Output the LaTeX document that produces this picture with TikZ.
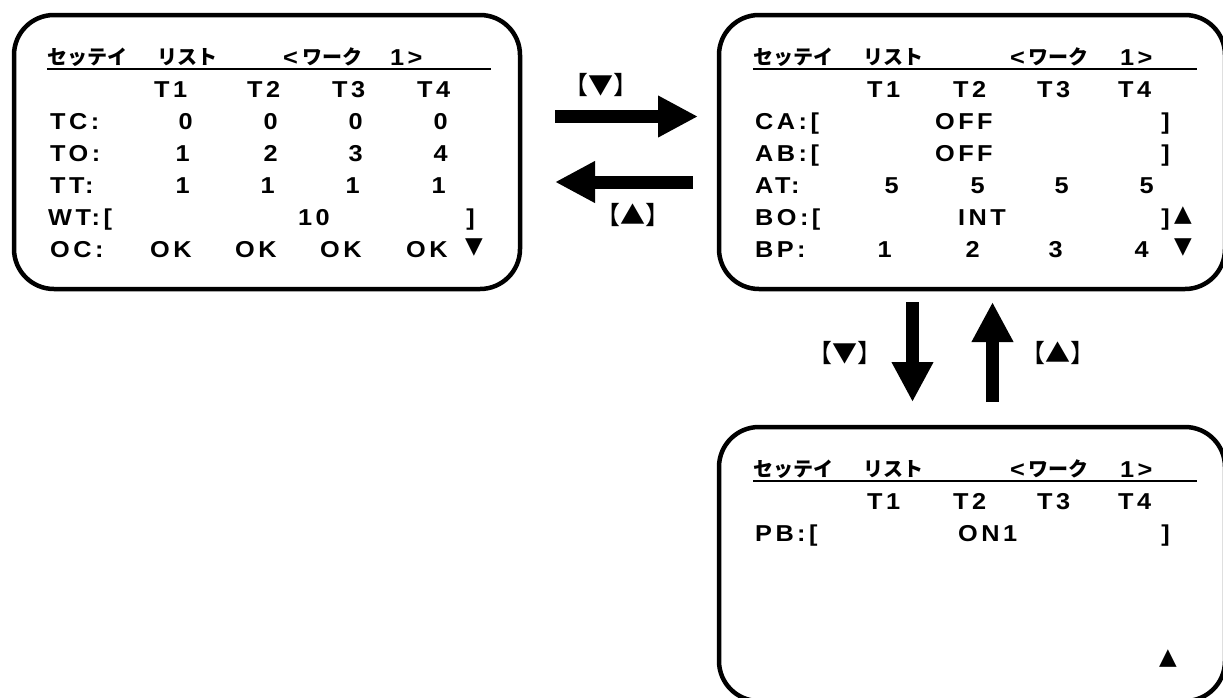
\documentclass[tikz,border=0pt]{standalone}
\usepackage{fontspec}
\usetikzlibrary{positioning, arrows.meta}
\newfontfamily\lcdfont[FakeStretch=1.1,LetterSpace=15]{Liberation Sans}
\newfontfamily\cjk{Noto Sans CJK JP}
\newfontfamily\symfont{DejaVu Sans}

\tikzset{
  screen/.style={draw, line width=4.5pt, rounded corners=40pt, minimum width=506pt,
    minimum height=274pt, inner sep=0pt, outer sep=0pt},
  lcd/.style={font=\lcdfont\bfseries\fontsize{23}{23}\selectfont, inner sep=0pt, anchor=base west},
  num/.style={lcd, anchor=base east},
  kana/.style={font=\cjk\bfseries\fontsize{20}{20}\selectfont, inner sep=0pt, anchor=west},
  scroll/.style={font=\symfont\fontsize{23}{23}\selectfont, inner sep=0pt},
  keylabel/.style={font=\cjk\fontsize{25}{25}\selectfont, inner sep=0pt},
  bigarrow/.style={line width=13pt, -{Triangle[length=40pt,width=39pt]}},
}

% title line of a list screen: #1 = x of "<", #2 = x of kana, #3 = x of "1>"
\newcommand{\listhead}[3]{%
  \node[kana] (title) at (47,57) {セッテイ};
  \node[kana] (list) at (157,57) {リスト};
  \node[lcd] (lt) at (#1,65) {<};
  \node[kana] (work) at (#2,57) {ワーク};
  \node[lcd] (no) at (#3,65) {1>};
  \draw[line width=1.3pt] (47,69) -- (491,69);
}

\begin{document}
\begin{tikzpicture}[x=1pt, y=-1pt, node distance=199pt]
  \path[use as bounding box, clip] (0,0) rectangle (1223,697);

  % the three screens
  \node[screen] (s1) at (267,152) {};
  \node[screen] (s2) [right=of s1] {};
  \node[screen] (s3) [below=138pt of s2] {};

  % screen 1
  \begin{scope}[name prefix=a-]
    \listhead{283}{302}{390}
    \foreach \x [count=\i] in {154,247,332,417}
      \node[lcd] (t\i) at (\x,97) {T\i};
    \node[lcd] (tc) at (50,129) {TC:};
    \foreach \x [count=\i] in {193,278,363,448}
      \node[num] (tc\i) at (\x,129) {0};
    \node[lcd] (to) at (50,161) {TO:};
    \foreach \x [count=\i] in {190,278,363,448}
      \node[num] (to\i) at (\x,161) {\i};
    \node[lcd] (tt) at (50,193) {TT:};
    \foreach \x [count=\i] in {190,275,360,446}
      \node[num] (tt\i) at (\x,193) {1};
    \node[lcd] (wt) at (48,225) {WT:[};
    \node[lcd] (wtv) at (298,225) {10};
    \node[num] (wte) at (475,225) {]};
    \node[lcd] (oc) at (50,257) {OC:};
    \foreach \x [count=\i] in {150,235,320,406}
      \node[lcd] (oc\i) at (\x,257) {OK};
    \node[scroll] (dn) at (474,248) {▼};
  \end{scope}

  % screen 2
  \begin{scope}[shift={(706,0)}, name prefix=b-]
    \listhead{304}{322}{414}
    \foreach \x [count=\i] in {161,247,331,412}
      \node[lcd] (t\i) at (\x,97) {T\i};
    \node[lcd] (ca) at (49,129) {CA:[};
    \node[lcd] (cav) at (229,129) {OFF};
    \node[num] (cae) at (464,129) {]};
    \node[lcd] (ab) at (49,161) {AB:[};
    \node[lcd] (abv) at (229,161) {OFF};
    \node[num] (abe) at (464,161) {]};
    \node[lcd] (at) at (49,193) {AT:};
    \foreach \x [count=\i] in {193,279,363,448}
      \node[num] (at\i) at (\x,193) {5};
    \node[lcd] (bo) at (49,225) {BO:[};
    \node[lcd] (bov) at (252,225) {INT};
    \node[num] (boe) at (464,225) {]};
    \node[scroll] (up) at (477,216) {▲};
    \node[lcd] (bp) at (49,257) {BP:};
    \foreach \x [count=\i] in {186,274,357,443}
      \node[num] (bp\i) at (\x,257) {\i};
    \node[scroll] (dn) at (477,248) {▼};
  \end{scope}

  % screen 3
  \begin{scope}[shift={(706,412)}, name prefix=c-]
    \listhead{304}{322}{414}
    \foreach \x [count=\i] in {161,247,331,412}
      \node[lcd] (t\i) at (\x,97) {T\i};
    \node[lcd] (pb) at (49,129) {PB:[};
    \node[lcd] (pbv) at (252,129) {ON1};
    \node[num] (pbe) at (464,129) {]};
    \node[scroll] (up) at (462,247) {▲};
  \end{scope}

  % key arrows
  \draw[bigarrow, shorten <=35pt, shorten >=21pt] ([yshift=35.5pt]s1.east) -- ([yshift=35.5pt]s2.west);
  \draw[bigarrow, shorten <=26pt, shorten >=35pt] ([yshift=-30pt]s2.west) -- ([yshift=-30pt]s1.east);
  \draw[bigarrow, shorten <=13pt, shorten >=25pt] ([xshift=-59.5pt]s2.south) -- ([xshift=-59.5pt]s3.north);
  \draw[bigarrow, shorten <=25pt, shorten >=13pt] ([xshift=20.5pt]s3.north) -- ([xshift=20.5pt]s2.south);
  \node[keylabel] (kd1) at (601,85) {【▼】};
  \node[keylabel] (ku1) at (633,215) {【▲】};
  \node[keylabel] (kd2) at (845,353) {【▼】};
  \node[keylabel] (ku2) at (1058,353) {【▲】};
\end{tikzpicture}
\end{document}
